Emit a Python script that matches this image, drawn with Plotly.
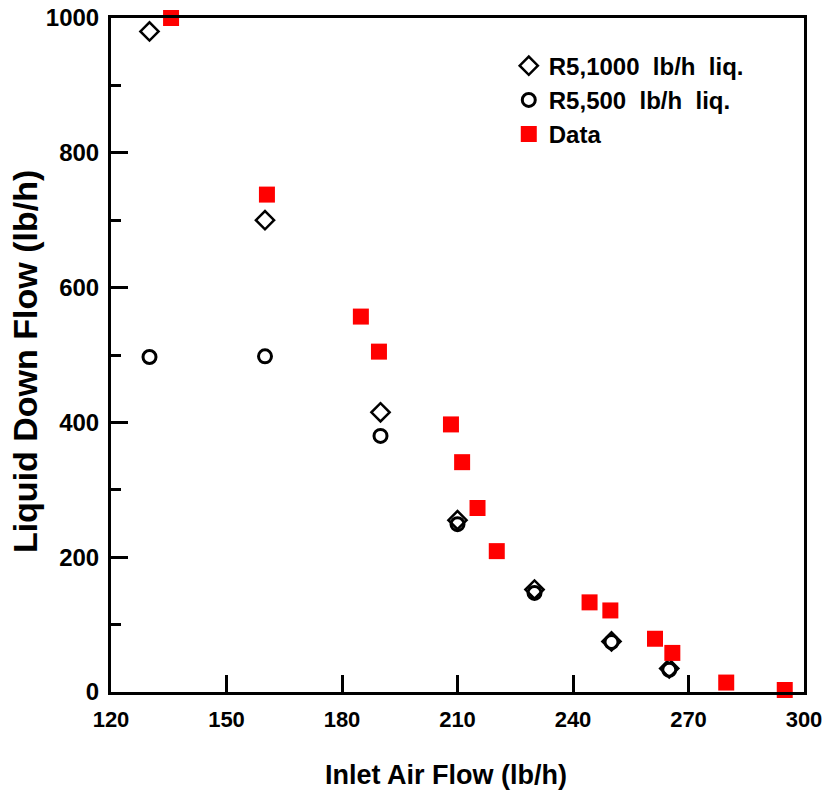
import plotly.graph_objects as go

# R5, 1000 lb/h liquid (open diamonds)
r1000_x = [130, 160, 190, 210, 230, 250, 265]
r1000_y = [980, 700, 415, 255, 152, 75, 35]

# R5, 500 lb/h liquid (open circles)
r500_x = [130, 160, 190, 210, 230, 250, 265]
r500_y = [497, 498, 380, 249, 147, 74, 33]

# Experimental data (red squares)
data_x = [135.6, 160.5, 184.9, 189.6, 208.3, 211.2, 215.2, 220.2, 244.3, 249.7, 261.3, 265.8, 279.8, 295.0]
data_y = [1000, 738, 557, 505, 397, 341, 273, 209, 133, 121, 79, 58, 14, 3]

x_ticks = [120, 150, 180, 210, 240, 270, 300]
y_ticks = [0, 200, 400, 600, 800, 1000]

FONT = "Liberation Sans, Arial, sans-serif"

fig = go.Figure()
fig.add_trace(go.Scatter(
    x=r1000_x, y=r1000_y, mode="markers", name="R5,1000  lb/h  liq.",
    marker=dict(symbol="diamond-open", size=14, color="black", line=dict(width=2.5, color="black")),
    cliponaxis=False,
))
fig.add_trace(go.Scatter(
    x=r500_x, y=r500_y, mode="markers", name="R5,500  lb/h  liq.",
    marker=dict(symbol="circle-open", size=13, color="black", line=dict(width=3, color="black")),
    cliponaxis=False,
))
fig.add_trace(go.Scatter(
    x=data_x, y=data_y, mode="markers", name="Data",
    marker=dict(symbol="square", size=16, color="#ff0000", line=dict(width=0)),
    cliponaxis=False,
))

fig.update_layout(
    width=828, height=797,
    margin=dict(l=111, r=24, t=18, b=105, autoexpand=False),
    paper_bgcolor="white", plot_bgcolor="white",
    font=dict(family=FONT, size=18, color="black"),
    showlegend=True,
    legend=dict(
        x=0.574, y=0.962, xanchor="left", yanchor="top",
        font=dict(family=FONT, size=24, color="black", weight="bold"),
        bgcolor="rgba(0,0,0,0)", borderwidth=0,
        itemsizing="trace",
    ),
    annotations=[
        dict(text="Inlet Air Flow (lb/h)", xref="paper", yref="paper",
             x=0.483, y=-0.123, xanchor="center", yanchor="middle", showarrow=False,
             font=dict(family=FONT, size=27, color="black", weight="bold")),
        dict(text="Liquid Down Flow (lb/h)", xref="paper", yref="paper",
             x=-0.125, y=0.49, xanchor="center", yanchor="middle", showarrow=False,
             textangle=-90,
             font=dict(family=FONT, size=34, color="black", weight="bold")),
    ],
)

fig.update_xaxes(
    range=[120, 300], tickvals=x_ticks, ticktext=[str(v) for v in x_ticks],
    showline=True, linewidth=3, linecolor="black", mirror=True,
    ticks="inside", ticklen=17, tickwidth=3, tickcolor="black",
    showgrid=False, zeroline=False, automargin=False,
    tickfont=dict(family=FONT, size=22, color="black", weight="bold"),
    ticklabelstandoff=6,
)
fig.update_yaxes(
    range=[0, 1000], tickvals=y_ticks, ticktext=[str(v) for v in y_ticks],
    showline=True, linewidth=3, linecolor="black", mirror=True,
    ticks="inside", ticklen=17, tickwidth=3, tickcolor="black",
    minor=dict(dtick=100, ticks="inside", ticklen=10, tickwidth=3, tickcolor="black", showgrid=False),
    showgrid=False, zeroline=False, automargin=False,
    tickfont=dict(family=FONT, size=24, color="black", weight="bold"),
    ticklabelstandoff=4,
)

fig.write_html("out.html")
